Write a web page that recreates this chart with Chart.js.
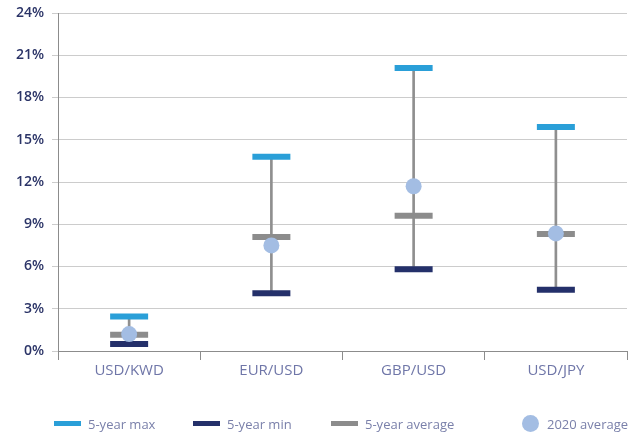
<!DOCTYPE html>
<html>
<head>
<meta charset="utf-8">
<script src="https://cdn.jsdelivr.net/npm/chart.js@4.4.1/dist/chart.umd.min.js"></script>
<style>
  html, body { margin: 0; padding: 0; background: #ffffff; }
  #wrap { position: relative; width: 637px; height: 432px; overflow: hidden; }
  #chart { position: absolute; left: 0; top: 0; }
  .legend { position: absolute; left: 0; top: 415px; width: 637px; height: 17px;
            font: 13px 'Open Sans', sans-serif; color: #7a80aa; }
  .item { position: absolute; top: 0; height: 17px; display: flex; align-items: center; white-space: nowrap; }
  .sw { width: 27px; height: 5px; margin-right: 7px; }
  .dot { width: 17px; height: 17px; border-radius: 50%; margin-right: 8px; }
</style>
</head>
<body>
<div id="wrap">
  <canvas id="chart" width="637" height="432"></canvas>
  <div class="legend">
    <div class="item" style="left:54px"><span class="sw" style="background:#2a9fd8"></span>5-year max</div>
    <div class="item" style="left:193px"><span class="sw" style="background:#24306a"></span>5-year min</div>
    <div class="item" style="left:331px"><span class="sw" style="background:#8c8c8c"></span>5-year average</div>
    <div class="item" style="left:522px"><span class="dot" style="background:#a3bde3"></span>2020 average</div>
  </div>
</div>
<script>
// Currency pairs and their volatility figures (in %)
const categories = ['USD/KWD', 'EUR/USD', 'GBP/USD', 'USD/JPY'];
const max5 = [2.45, 13.8, 20.1, 15.9];
const min5 = [0.5, 4.1, 5.8, 4.35];
const avg5 = [1.15, 8.1, 9.6, 8.3];
const avg2020 = [1.2, 7.5, 11.7, 8.35];
const yTicks = [0, 3, 6, 9, 12, 15, 18, 21, 24];

const COLORS = {
  max: '#2a9fd8',
  min: '#24306a',
  avg: '#8c8c8c',
  cur: '#a3bde3',
  whisker: '#8f8f8f'
};

// range between the 5-year min and max
const ranges = categories.map((c, i) => [min5[i], max5[i]]);

function markerSet(label, data, color, order) {
  return {
    type: 'line', label, data, order,
    showLine: false,
    pointStyle: 'line',
    pointRadius: 19, pointHoverRadius: 19,
    pointBorderWidth: 6, pointHoverBorderWidth: 6,
    borderColor: color, backgroundColor: color,
    pointBorderColor: color
  };
}

new Chart(document.getElementById('chart'), {
  type: 'bar',
  data: {
    labels: categories,
    datasets: [
      {
        label: 'range', data: ranges, order: 5,
        backgroundColor: COLORS.whisker, borderWidth: 0,
        barThickness: 2
      },
      markerSet('5-year average', avg5, COLORS.avg, 4),
      markerSet('5-year min', min5, COLORS.min, 3),
      markerSet('5-year max', max5, COLORS.max, 2),
      {
        type: 'line', label: '2020 average', data: avg2020, order: 1,
        showLine: false, pointStyle: 'circle',
        pointRadius: 8, pointHoverRadius: 8, pointBorderWidth: 0,
        backgroundColor: COLORS.cur, borderColor: COLORS.cur
      }
    ]
  },
  options: {
    responsive: false,
    animation: false,
    events: [],
    layout: { autoPadding: false, padding: { top: 13, right: 10, bottom: 41, left: 0 } },
    plugins: { legend: { display: false }, tooltip: { enabled: false } },
    scales: {
      x: {
        type: 'category',
        offset: true,
        grid: { offset: true, drawOnChartArea: false, drawTicks: true, tickLength: 9, color: '#8c8c8c', lineWidth: 1 },
        border: { display: true, color: '#8c8c8c', width: 1 },
        ticks: { color: '#6f76a8', font: { family: 'Open Sans', size: 15 }, padding: 2 },
        afterFit(scale) { scale.height = 40; scale.paddingLeft = 0; scale.paddingRight = 0; }
      },
      y: {
        min: 0, max: 24,
        afterBuildTicks(scale) { scale.ticks = yTicks.map(v => ({ value: v })); },
        grid: { color: '#cccccc', lineWidth: 1, tickLength: 6 },
        border: { display: true, color: '#8c8c8c', width: 1 },
        ticks: {
          color: '#2b3467',
          font: { family: 'Open Sans', size: 14, weight: '600' },
          padding: 8,
          callback: v => v + '%'
        },
        afterFit(scale) { scale.width = 58; scale.paddingTop = 0; scale.paddingBottom = 0; }
      }
    }
  }
});
</script>
</body>
</html>
